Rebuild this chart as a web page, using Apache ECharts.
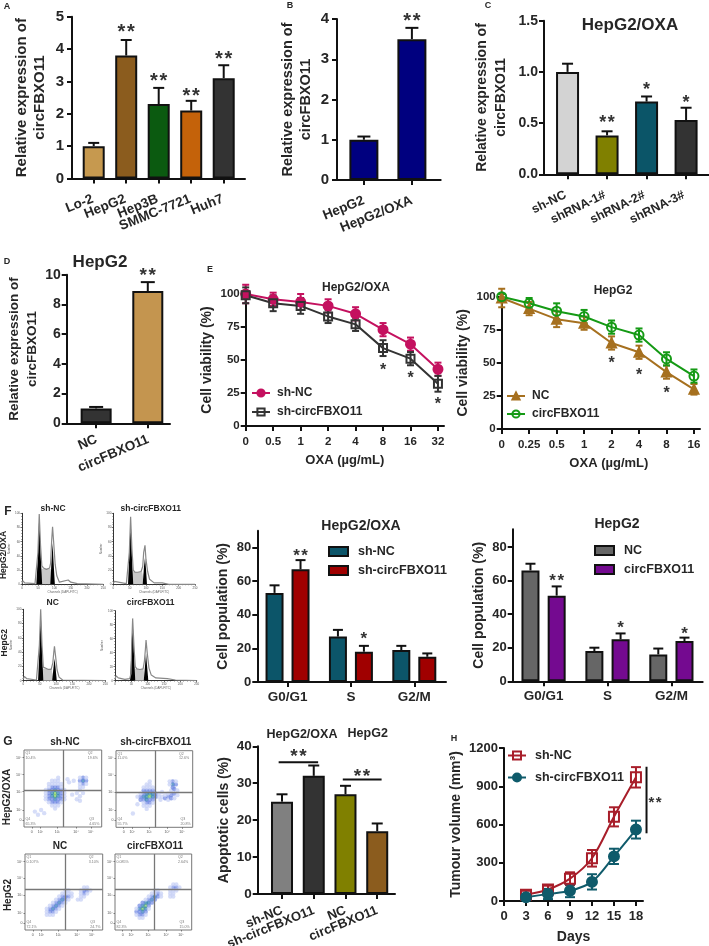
<!DOCTYPE html>
<html><head><meta charset="utf-8">
<style>html,body{margin:0;padding:0;background:#fff}#c{width:709px;height:946px}canvas{filter:blur(.35px)}</style>
<script src="https://cdn.jsdelivr.net/npm/echarts@6/dist/echarts.min.js"></script>
</head><body><div id="c"></div>
<script>
// ---------- DATA ----------
const catsA=['Lo-2','HepG2','Hep3B','SMMC-7721','Huh7'];
const valsA=[1.0,3.8,2.3,2.1,3.1];
const topsA=[1.1,4.28,2.8,2.4,3.5];
const starsA=[[1,4.64,'**'],[2,3.11,'**'],[3,2.66,'**'],[4,3.81,'**']];
const catsB=['HepG2','HepG2/OXA'];
const valsB=[1.0,3.5];
const topsB=[1.08,3.78];
const starsB=[[1,4.03,'**']];
const catsC=['sh-NC','shRNA-1#','shRNA-2#','shRNA-3#'];
const valsC=[1.0,0.38,0.71,0.53];
const topsC=[1.08,0.42,0.76,0.65];
const starsC=[[1,0.537,'**'],[2,0.857,'*'],[3,0.733,'*']];
const catsD=['NC','circFBXO11'];
const valsD=[1.0,8.9];
const topsD=[1.1,9.5];
const starsD=[[1,10.18,'**']];
const dosesE1=['0','0.5','1','2','4','8','16','32'];
const shNC_E=[100,96,94,91,85,73,62,43];
const shNC_Eerr=[7,5,6,5,5,5,5,5];
const shCirc_E=[99,93,91,83,77,59,51,32];
const shCirc_Eerr=[6,6,6,5,5,6,5,6];
const starsE1=[[5,44.7,'*'],[6,38,'*'],[7,19,'*']];
const dosesE2=['0','0.25','0.5','1','2','4','8','16'];
const nc_E=[99,91,83,80,65,58,43,30];
const nc_Eerr=[7,5,6,5,5,5,5,4];
const circ_E=[100,95,89,85,77,71,53,40];
const circ_Eerr=[2,4,6,5,5,5,5,5];
const starsE2=[[4,52,'*'],[5,43,'*'],[6,29.5,'*']];
const phases=['G0/G1','S','G2/M'];
const shNC_F=[53,27,19], shNC_Ftop=[57.5,31,21.5];
const shCirc_F=[67,18,15], shCirc_Ftop=[72.5,21.5,17];
const nc_F=[66,18,16], nc_Ftop=[70,20,19.5];
const circ_F=[51,25,24], circ_Ftop=[56.5,28.5,26];
const catsG=['sh-NC','sh-circFBXO11','NC','circFBXO11'];
const valsG=[25,32,27,17];
const topsG=[27,34.8,29.3,19.1];
const daysH=[3,6,9,12,15,18];
const shNC_H=[50,90,175,335,660,970], shNC_Herr=[30,30,50,65,75,80];
const shCirc_H=[30,55,80,150,350,560], shCirc_Herr=[20,40,50,60,60,70];

// Flow-cytometry histograms, [channel, % of max]
const hist1=[
 {total:[[0,1],[3,5],[8,2],[40,1],[45,3],[49,45],[53,99],[57,55],[61,26],[66,23],[75,21],[85,23],[88,30],[91,60],[94,81],[98,55],[102,28],[107,12],[115,3],[142,6],[150,3],[170,1],[250,0]],
  g1:[[44,0],[49,40],[53,99],[57,45],[62,0]], g2:[[87,0],[91,35],[94,58],[97,32],[101,0]], s:[[56,0],[60,22],[75,22],[88,22],[94,0]]},
 {total:[[0,1],[3,4],[8,2],[40,1],[45,3],[49,45],[53,95],[57,50],[61,20],[66,17],[75,17],[85,18],[90,25],[93,45],[97,55],[100,35],[105,18],[111,7],[125,2],[150,2],[170,0],[250,0]],
  g1:[[45,0],[49,40],[53,95],[57,40],[61,0]], g2:[[90,0],[94,25],[97,37],[100,22],[103,0]], s:[[56,0],[60,18],[75,17],[88,18],[95,0]]},
 {total:[[0,2],[3,6],[10,3],[40,1],[45,3],[49,50],[53,100],[57,50],[61,19],[66,17],[75,16],[85,16],[90,25],[93,40],[95,48],[99,32],[103,15],[109,5],[120,1],[250,0]],
  g1:[[45,0],[49,40],[53,100],[57,45],[61,0]], g2:[[88,0],[92,18],[95,31],[98,20],[102,0]], s:[[56,0],[60,17],[75,16],[86,17],[93,0]]},
 {total:[[0,2],[3,7],[10,4],[30,2],[45,3],[49,10],[51,50],[54,89],[58,50],[62,20],[67,17],[76,16],[86,17],[90,28],[93,45],[95,58],[99,38],[104,18],[111,8],[125,4],[160,3],[185,1],[250,0]],
  g1:[[46,0],[50,40],[54,89],[58,40],[62,0]], g2:[[88,0],[92,22],[95,39],[98,22],[102,0]], s:[[57,0],[61,17],[76,16],[87,17],[93,0]]}
];
const histX=[0,50,100,150,200,250];
const histY=[0,20,40,60,80,100];

// Annexin-V / PI dot plots: [x, y, density level 0..3] read on each plot's frame (0..100)
const dots1=[[40,44,3],[40,40,3],[36,44,2],[44,44,2],[36,40,2],[44,40,2],[40,48,2],[40,36,2],[36,48,1],[44,48,1],[36,36,1],[44,36,1],[32,44,1],[48,44,1],[32,40,1],[48,40,1],[40,52,1],[40,32,1],[36,52,1],[44,52,1],[36,32,1],[44,32,1],[32,48,1],[48,48,1],[32,36,1],[48,36,1],[28,44,0],[52,44,0],[28,40,0],[52,40,0],[32,52,0],[48,52,0],[32,32,0],[48,32,0],[36,56,0],[44,56,0],[40,56,0],[36,28,0],[44,28,0],[40,28,0],[32,56,0],[48,56,0],[40,60,0],[36,60,0],[44,60,0],[44,64,0],[40,24,0],[28,36,0],[28,48,0],[52,48,0],[52,36,0],[76,60,2],[72,60,1],[80,60,1],[76,64,1],[76,56,1],[72,56,0],[80,56,0],[72,64,0],[80,64,0],[72,52,0],[76,52,0],[72,48,0],[68,44,0],[72,40,0],[76,44,0],[68,36,0],[72,34,0],[64,60,0],[56,62,0],[14,20,0],[18,16,0],[22,22,0],[26,18,0],[62,42,0],[58,58,0]];
const dots2=[[40,44,2],[44,44,2],[40,40,2],[44,40,3],[48,40,2],[36,40,2],[36,36,1],[40,36,2],[44,36,1],[48,36,1],[36,44,1],[48,44,2],[40,48,1],[44,48,1],[36,48,1],[48,48,1],[52,44,1],[52,40,1],[32,40,1],[32,36,1],[32,44,0],[40,32,1],[44,32,1],[36,32,0],[48,32,0],[40,52,0],[44,52,0],[36,52,0],[48,52,0],[40,56,0],[44,56,0],[44,60,0],[40,28,0],[36,28,0],[44,28,0],[40,24,0],[28,40,0],[56,40,0],[56,44,0],[60,40,0],[64,38,1],[68,40,1],[72,42,1],[76,44,1],[64,42,0],[68,36,0],[72,38,1],[76,38,0],[80,42,0],[68,44,0],[72,48,0],[76,50,1],[80,48,0],[74,56,2],[70,56,0],[78,56,1],[74,60,1],[70,60,0],[78,60,0],[74,52,1],[58,36,0],[60,46,0],[22,18,0],[28,30,0]];
const dots3=[[36,28,2],[40,32,2],[44,36,2],[48,40,2],[32,24,1],[36,24,1],[32,28,1],[40,28,1],[36,32,1],[44,32,1],[40,36,1],[48,36,1],[44,40,1],[52,44,1],[52,40,1],[48,44,1],[56,44,1],[56,48,0],[28,24,0],[28,28,0],[32,20,0],[36,20,0],[28,20,0],[40,24,0],[32,32,0],[36,36,0],[40,40,0],[44,44,0],[48,48,0],[52,48,0],[44,28,0],[48,32,0],[52,36,0],[56,40,0],[60,44,0],[60,48,0],[52,52,0],[56,52,0],[76,52,1],[80,52,1],[72,52,0],[76,48,1],[80,48,0],[72,48,0],[76,44,0],[72,44,0],[68,40,0],[76,56,0],[80,56,0],[84,52,0],[72,40,0]];
const dots4=[[36,28,3],[40,32,3],[36,24,2],[40,28,2],[36,32,2],[44,36,2],[32,28,2],[32,24,1],[44,32,1],[40,36,2],[48,40,2],[48,44,1],[52,44,2],[44,40,1],[40,24,1],[32,32,1],[36,36,1],[40,40,0],[44,44,0],[32,20,1],[36,20,1],[28,24,1],[28,20,0],[28,28,0],[40,20,0],[44,28,0],[48,36,1],[52,40,1],[56,44,1],[56,48,1],[52,48,0],[48,48,0],[60,48,0],[60,44,0],[56,52,0],[52,52,0],[32,16,0],[36,16,0],[76,56,1],[80,56,1],[76,52,0],[80,52,0],[72,52,0],[76,48,0],[72,48,0],[76,44,0],[72,44,0],[72,56,0],[84,56,0],[76,60,0],[80,60,0]];
const quadLabels1=['Q1','10.4%','Q2','19.6%','Q4','65.3%','Q3','4.65%'];
const quadLabels2=['Q1','11.0%','Q2','12.6%','Q4','55.7%','Q3','20.8%'];
const quadLabels3=['Q1','0.107%','Q2','3.10%','Q4','72.1%','Q3','24.7%'];
const quadLabels4=['Q1','0.085%','Q2','2.64%','Q4','82.3%','Q3','15.0%'];
const dotTickPosX=[10,21,43,67,86];
const dotTickPosY=[9,22,46,68,90];
const dotTickNames=['0','10²','10³','10⁴','10⁵'];

// ---------- STYLE ----------
const FONT='"Liberation Sans",Arial,sans-serif';
const INK='#262626';
const grid=[],xAxis=[],yAxis=[],series=[],legend=[],graphic=[];
function text(t,x,y,size,extra){graphic.push({type:'text',silent:true,x,y,rotation:(extra&&extra.rot)||0,
  style:{text:t,fill:(extra&&extra.fill)||INK,font:`${(extra&&extra.w)||'bold'} ${size}px ${FONT}`,align:'center',verticalAlign:'middle'}});}
function panel(g){
  grid.push({left:g.x0,width:g.x1-g.x0,top:g.yTop,height:g.yBot-g.yTop,show:false});
  return grid.length-1;
}
function axX(i,o){
  xAxis.push({type:'value',gridIndex:i,min:o.min,max:o.max,splitLine:{show:false},
    axisLine:{onZero:false,lineStyle:{color:'#111',width:2}},
    axisTick:{customValues:o.ticks,length:5,lineStyle:{color:'#111',width:2}},
    axisLabel:{show:!o.hideLabels,customValues:o.ticks,showMinLabel:true,showMaxLabel:true,margin:o.margin||6,color:INK,fontFamily:FONT,fontWeight:'bold',fontSize:o.size||13,formatter:o.fmt||(v=>String(v))},
    name:o.name||'',nameLocation:'middle',nameGap:o.nameGap||30,
    nameTextStyle:{color:INK,fontFamily:FONT,fontWeight:'bold',fontSize:o.nameSize||13,padding:o.namePad||0}});
}
function axY(i,o){
  yAxis.push({type:'value',gridIndex:i,min:o.min,max:o.max,splitLine:{show:false},
    axisLine:{onZero:false,lineStyle:{color:'#111',width:2}},
    axisTick:{customValues:o.ticks,length:5,lineStyle:{color:'#111',width:2}},
    axisLabel:{customValues:o.ticks,showMinLabel:true,showMaxLabel:true,margin:o.margin||6,color:INK,fontFamily:FONT,fontWeight:'bold',fontSize:o.size||14,formatter:o.fmt||(v=>String(v))},
    name:o.name,nameLocation:'middle',nameGap:o.nameGap,nameRotate:90,
    nameTextStyle:{color:INK,fontFamily:FONT,fontWeight:'bold',fontSize:o.nameSize||14,lineHeight:o.nameLH||18,align:'center'}});
}
// Slanted category names anchored to each tick (the axis would otherwise drop overlapping ones)
function slantLabels(i,cats,deg,size,dx,dy){
  series.push({type:'custom',coordinateSystem:'cartesian2d',xAxisIndex:i,yAxisIndex:i,silent:true,clip:false,z:5,
    renderItem:(p,api)=>{
      const c=api.coord([api.value(0),0]);
      return {type:'text',x:c[0]+dx,y:c[1]+dy,rotation:deg*Math.PI/180,
        style:{text:cats[p.dataIndex],fill:INK,font:`bold ${size}px ${FONT}`,align:'right',verticalAlign:'middle'}};
    },data:cats.map((_,k)=>[k])});
}
function bars(i,name,xs,vals,colors,w){
  series.push({type:'bar',name,xAxisIndex:i,yAxisIndex:i,barWidth:w,barGap:'-100%',silent:true,z:2,
    itemStyle:{color:Array.isArray(colors)?'#000':colors,borderColor:'#111',borderWidth:2},
    data:vals.map((v,k)=>({value:[xs[k],v],itemStyle:Array.isArray(colors)?{color:colors[k],borderColor:'#111',borderWidth:2}:undefined}))});
}
function errs(i,data,cap,color,two,lw){
  series.push({type:'custom',coordinateSystem:'cartesian2d',xAxisIndex:i,yAxisIndex:i,silent:true,z:two?3:1,clip:false,
    renderItem:(p,api)=>{
      const a=api.coord([api.value(0),api.value(1)]),b=api.coord([api.value(0),api.value(2)]);
      const st={stroke:color,lineWidth:lw||2,fill:null};
      const seg=(x1,y1,x2,y2)=>({type:'line',shape:{x1,y1,x2,y2},style:st});
      const ch=[seg(a[0],a[1],b[0],b[1]),seg(b[0]-cap,b[1],b[0]+cap,b[1])];
      if(two)ch.push(seg(a[0]-cap,a[1],a[0]+cap,a[1]));
      return {type:'group',children:ch};
    },data});
}
function rule(i,d){
  series.push({type:'custom',coordinateSystem:'cartesian2d',xAxisIndex:i,yAxisIndex:i,silent:true,clip:false,z:3,
    renderItem:(p,api)=>{
      const a=api.coord([api.value(0),api.value(1)]),b=api.coord([api.value(2),api.value(3)]);
      return {type:'line',shape:{x1:a[0],y1:a[1],x2:b[0],y2:b[1]},style:{stroke:'#111',lineWidth:2}};
    },data:d});
}
function stars(i,data,size){
  series.push({type:'custom',coordinateSystem:'cartesian2d',xAxisIndex:i,yAxisIndex:i,silent:true,z:5,clip:false,
    renderItem:(p,api)=>{
      const c=api.coord([api.value(0),api.value(1)]);
      return {type:'text',style:{x:c[0],y:c[1]+size*0.2,text:data[p.dataIndex][2].replace('**','*\u200a*'),fill:'#333',font:`bold ${size}px ${FONT}`,align:'center',verticalAlign:'middle'}};
    },data:data.map(d=>[d[0],d[1]])});
}
function lineS(i,key,xs,vals,color,symbol,size,smooth,hollow){
  series.push({type:'line',name:key,xAxisIndex:i,yAxisIndex:i,silent:true,z:4,data:vals.map((v,k)=>[xs[k],v]),
    symbol,symbolSize:size,showAllSymbol:true,smooth:smooth||false,lineStyle:{color,width:2},
    itemStyle:{color:hollow?'rgba(255,255,255,0)':color,borderColor:color,borderWidth:2}});
}
function leg(items,left,top,gap,w,h,size,icon,pad){
  const l={left,top,orient:'vertical',itemGap:gap,itemWidth:w,itemHeight:h,selectedMode:false,data:items,
    padding:0,formatter:n=>n.split('|')[0],textStyle:{color:INK,fontFamily:FONT,fontWeight:'bold',fontSize:size,padding:[0,0,0,pad||0]}};
  if(icon)l.icon=icon;
  legend.push(l);
}
const ids=a=>a.map((_,k)=>k);
const topData=(xs,v,t)=>v.map((d,k)=>[xs[k],d,t[k]]);
const twoData=(xs,v,e)=>v.map((d,k)=>[xs[k],d-e[k],d+e[k]]);
const catFmt=c=>(v=>c[Math.round(v)]);

// Panel A
let i=panel({x0:72,x1:245,yTop:16.7,yBot:178.5});
axX(i,{min:-0.668,max:4.655,ticks:ids(catsA),hideLabels:true});
axY(i,{min:0,max:5,ticks:[0,1,2,3,4,5],size:15,margin:8,name:'Relative expression of\ncircFBXO11',nameGap:23,nameSize:15,nameLH:18});
bars(i,'A',ids(catsA),valsA,['#C6994F','#8B5C1E','#0B5A10','#C4620A','#333333'],22);
errs(i,topData(ids(catsA),valsA,topsA),5.5,'#111');stars(i,starsA,20);
slantLabels(i,catsA,22,13.5,-1,20);
// Panel B
i=panel({x0:337,x1:440.7,yTop:19,yBot:180});
axX(i,{min:-0.56,max:1.6,ticks:ids(catsB),hideLabels:true});
axY(i,{min:0,max:4,ticks:[0,1,2,3,4],size:15,margin:8,name:'Relative expression of\ncircFBXO11',nameGap:22,nameSize:14.5,nameLH:18});
bars(i,'B',ids(catsB),valsB,'#00007F',29);
errs(i,topData(ids(catsB),valsB,topsB),6.5,'#111');stars(i,starsB,20);
slantLabels(i,catsB,22,13.5,0,20);
// Panel C
i=panel({x0:544,x1:709,yTop:20.7,yBot:174.3});
axX(i,{min:-0.596,max:3.58,ticks:ids(catsC),hideLabels:true});
axY(i,{min:0,max:1.5,ticks:[0,0.5,1,1.5],size:14,fmt:v=>v.toFixed(1),name:'Relative expression of\ncircFBXO11',nameGap:34,nameSize:14,nameLH:18.5});
bars(i,'C',ids(catsC),valsC,['#D3D3D3','#808000','#0B5568','#333333'],23);
errs(i,topData(ids(catsC),valsC,topsC),5.5,'#111');stars(i,starsC,18);
slantLabels(i,catsC,26,12.5,-2,20);
text('HepG2/OXA',630,25,17);
// Panel D
i=panel({x0:66.7,x1:170,yTop:274.7,yBot:423.3});
axX(i,{min:-0.57,max:1.43,ticks:ids(catsD),hideLabels:true});
axY(i,{min:0,max:10,ticks:[0,2,4,6,8,10],size:14,name:'Relative expression of\ncircFBXO11',nameGap:23,nameSize:13.5,nameLH:18});
bars(i,'D',ids(catsD),valsD,['#333333','#C4954F'],31);
errs(i,topData(ids(catsD),valsD,topsD),7,'#111');stars(i,starsD,19);
slantLabels(i,catsD,23,13.5,0.5,15.5);
text('HepG2',100,262,17);
// Panel E left
i=panel({x0:245.7,x1:444,yTop:294,yBot:426});
axX(i,{min:0,max:7.22,ticks:ids(dosesE1),fmt:catFmt(dosesE1),size:11.5,margin:10,name:'OXA (µg/mL)',nameGap:28,nameSize:13});
axY(i,{min:0,max:100,ticks:[0,25,50,75,100],size:11.5,margin:6,name:'Cell viability (%)',nameGap:25,nameSize:14});
errs(i,twoData(ids(shNC_E),shNC_E,shNC_Eerr),3.5,'#C4115F',true);
errs(i,twoData(ids(shCirc_E),shCirc_E,shCirc_Eerr),3.5,'#333333',true);
lineS(i,'sh-NC|E',ids(shNC_E),shNC_E,'#C4115F','circle',9);
lineS(i,'sh-circFBXO11|E',ids(shCirc_E),shCirc_E,'#333333','rect',8,false,true);
stars(i,starsE1,16);
leg(['sh-NC|E','sh-circFBXO11|E'],251,387,7,18,9,12,null,2);
text('HepG2/OXA',356,288,12);
// Panel E right
i=panel({x0:501.7,x1:700,yTop:296.7,yBot:429});
axX(i,{min:0,max:7.22,ticks:ids(dosesE2),fmt:catFmt(dosesE2),size:11.5,margin:10,name:'OXA (µg/mL)',nameGap:28,nameSize:13,namePad:[0,0,0,16]});
axY(i,{min:0,max:100,ticks:[0,25,50,75,100],size:11.5,margin:6,name:'Cell viability (%)',nameGap:25,nameSize:14});
errs(i,twoData(ids(nc_E),nc_E,nc_Eerr),3.5,'#A6701F',true);
errs(i,twoData(ids(circ_E),circ_E,circ_Eerr),3.5,'#159A15',true);
lineS(i,'NC|E',ids(nc_E),nc_E,'#A6701F','triangle',9);
lineS(i,'circFBXO11|E',ids(circ_E),circ_E,'#159A15','circle',9,false,true);
stars(i,starsE2,16);
leg(['NC|E','circFBXO11|E'],506,390,6,18,9,12,null,2);
text('HepG2',613,291,12);

// Panel F bars
const off=0.205;
i=panel({x0:257.3,x1:446,yTop:530.7,yBot:682});
let xa=ids(phases).map(k=>k-off),xb=ids(phases).map(k=>k+off);
axX(i,{min:-0.477,max:2.5,ticks:ids(phases),fmt:catFmt(phases),size:13.5,margin:8});
axY(i,{min:0,max:90,ticks:[0,20,40,60,80],size:13,name:'Cell population (%)',nameGap:25,nameSize:14});
bars(i,'sh-NC|F',xa,shNC_F,'#0C5569',18);bars(i,'sh-circFBXO11|F',xb,shCirc_F,'#A00000',18);
errs(i,topData(xa,shNC_F,shNC_Ftop),5,'#111');errs(i,topData(xb,shCirc_F,shCirc_Ftop),5,'#111');
stars(i,[[0+off,76.6,'**'],[1+off,27.4,'*']],17);
leg(['sh-NC|F','sh-circFBXO11|F'],328,545,6,19,9,12.5,'rect',5);
text('HepG2/OXA',361,525.7,14);
i=panel({x0:512.7,x1:702.7,yTop:529.3,yBot:681.3});
axX(i,{min:-0.483,max:2.49,ticks:ids(phases),fmt:catFmt(phases),size:13.5,margin:8});
axY(i,{min:0,max:90.5,ticks:[0,20,40,60,80],size:13,name:'Cell population (%)',nameGap:25,nameSize:14});
bars(i,'NC|F',xa,nc_F,'#666666',18);bars(i,'circFBXO11|F',xb,circ_F,'#740A90',18);
errs(i,topData(xa,nc_F,nc_Ftop),5,'#111');errs(i,topData(xb,circ_F,circ_Ftop),5,'#111');
stars(i,[[0+off,61.7,'**'],[1+off,33.5,'*'],[2+off,30,'*']],17);
leg(['NC|F','circFBXO11|F'],594,544,6,19,9,12.5,'rect',5);
text('HepG2',617,524,14);

// Panel G bars
i=panel({x0:257.7,x1:395,yTop:746.3,yBot:894});
axX(i,{min:-0.766,max:3.56,ticks:ids(catsG),hideLabels:true});
axY(i,{min:0,max:40,ticks:[0,10,20,30,40],size:13.5,name:'Apoptotic cells (%)',nameGap:22,nameSize:14});
bars(i,'G',ids(catsG),valsG,['#808080','#333333','#808000','#8B5C1E'],22);
errs(i,topData(ids(catsG),valsG,topsG),5.5,'#111');
stars(i,[[0.52,38.1,'**'],[2.52,32.9,'**']],19);
rule(i,[[-0.106,35.7,1.138,35.7],[1.915,31,3.138,31]]);
slantLabels(i,catsG,22,13,0,16);
text('HepG2/OXA',302,735,12.5);text('HepG2',367.7,734,12.5);

// Panel H
i=panel({x0:504,x1:643,yTop:748,yBot:901});
axX(i,{min:0,max:18.96,ticks:[0,3,6,9,12,15,18],size:13,margin:9,name:'Days',nameGap:29,nameSize:14});
axY(i,{min:0,max:1200,ticks:[0,300,600,900,1200],size:13,margin:6,name:'Tumour volume (mm³)',nameGap:30,nameSize:14});
errs(i,twoData(daysH,shNC_H,shNC_Herr),5,'#A81E2A',true);
errs(i,twoData(daysH,shCirc_H,shCirc_Herr),5,'#0F5B6B',true);
lineS(i,'sh-NC|H',daysH,shNC_H,'#A81E2A','rect',10,0.3,true);
lineS(i,'sh-circFBXO11|H',daysH,shCirc_H,'#0F5B6B','circle',10,0.3);
rule(i,[[19.44,1053,19.44,531]]);
stars(i,[[20.6,792,'**']],15);
leg(['sh-NC|H','sh-circFBXO11|H'],507,749,9,18,10,12.5,null,4);

// Panel F histograms
[[22,103.3,513.3,584.3],[113.3,195,513.3,584.3],[23.3,105.3,609.3,680.7],[115,196.7,610.7,680.7]].forEach((b,n)=>{
  const k=panel({x0:b[0],x1:b[1],yTop:b[2],yBot:b[3]});
  xAxis.push({type:'value',gridIndex:k,min:0,max:250,splitLine:{show:false},axisLine:{lineStyle:{color:'#333',width:1}},
    axisTick:{customValues:histX,length:1.5,lineStyle:{color:'#333',width:.7}},minorTick:{show:true,splitNumber:5,length:1,lineStyle:{color:'#555',width:.5}},
    axisLabel:{customValues:histX,margin:2,fontSize:3,color:'#555',fontFamily:FONT},name:'Channels (DAPI-FITC)',nameLocation:'middle',nameGap:6,nameTextStyle:{fontSize:3,color:'#666',fontFamily:FONT}});
  yAxis.push({type:'value',gridIndex:k,min:0,max:100,splitLine:{show:false},axisLine:{lineStyle:{color:'#333',width:1}},
    axisTick:{customValues:histY,length:1.5,lineStyle:{color:'#333',width:.7}},minorTick:{show:true,splitNumber:5,length:1,lineStyle:{color:'#555',width:.5}},
    axisLabel:{customValues:histY,margin:2,fontSize:3,color:'#555',fontFamily:FONT},name:'Number',nameLocation:'middle',nameGap:6,nameTextStyle:{fontSize:3,color:'#666',fontFamily:FONT}});
  const h=hist1[n];
  const add=(d,fill,z)=>series.push({type:'line',xAxisIndex:k,yAxisIndex:k,silent:true,symbol:'none',z,data:d,lineStyle:{width:0},areaStyle:{color:fill,opacity:1}});
  add(h.s,'#C8C8C8',2);add(h.g1,'#000',3);add(h.g2,'#000',3);
  series.push({type:'line',xAxisIndex:k,yAxisIndex:k,silent:true,symbol:'none',z:4,data:h.total,lineStyle:{color:'#888',width:1.2}});
});
text('sh-NC',53,509,8.5);text('sh-circFBXO11',150.7,509,8.5);text('NC',52.7,602.7,8.5);text('circFBXO11',150.7,602.7,8.5);
text('HepG2/OXA',3.8,555,8.5,{rot:Math.PI/2});text('HepG2',4.3,642.7,8.5,{rot:Math.PI/2});

// Panel G dot plots
const dotColors=['#C5CEF5','#6E86E3','#2B7FB0','#7ACB5A'];
[[24,101.7,750,827,dots1,50.6,47.4,quadLabels1],[116,192.7,750.7,827.3,dots2,50.9,45.7,quadLabels2],
 [25,102.7,854,930,dots3,51.5,53.5,quadLabels3],[115,191.7,854,930,dots4,50.9,53.5,quadLabels4]].forEach(b=>{
  const k=grid.push({left:b[0],width:b[1]-b[0],top:b[2],height:b[3]-b[2],show:true,borderColor:'#777',borderWidth:1,backgroundColor:'transparent'})-1;
  const ax=(pos)=>({type:'value',gridIndex:k,min:0,max:100,splitLine:{show:false},axisLine:{show:false},
    axisTick:{customValues:pos,length:1.5,lineStyle:{color:'#555',width:.7}},
    axisLabel:{customValues:pos,margin:2.5,fontSize:3.6,color:'#555',fontFamily:FONT,formatter:v=>dotTickNames[pos.indexOf(v)]}});
  xAxis.push(ax(dotTickPosX));yAxis.push(ax(dotTickPosY));
  series.push({type:'scatter',xAxisIndex:k,yAxisIndex:k,silent:true,symbol:'circle',symbolSize:4.4,data:b[4],z:2,
    itemStyle:{opacity:.7,color:p=>dotColors[p.value[2]]},
    markLine:{silent:true,symbol:'none',animation:false,label:{show:false},lineStyle:{color:'#777',width:1.3,type:'solid'},data:[{xAxis:b[5]},{yAxis:b[6]}]}});
  const q=b[7],pos=[[2,96],[2,90],[82,96],[82,90],[2,11],[2,4],[84,11],[84,4]];
  series.push({type:'scatter',xAxisIndex:k,yAxisIndex:k,silent:true,symbolSize:0,z:3,data:pos,
    label:{show:true,position:'right',distance:0,fontSize:3.6,color:'#555',fontFamily:FONT,formatter:p=>q[p.dataIndex]}});
});
text('sh-NC',65,742.7,10);text('sh-circFBXO11',155.7,742.7,10);text('NC',60,846.7,10);text('circFBXO11',155,846.7,10);
text('HepG2/OXA',7.3,797,10,{rot:Math.PI/2});text('HepG2',8,895,10,{rot:Math.PI/2});

// Panel letters
[['A',7,7,9],['B',290,6,9],['C',488,6,9],['D',7,262,9],['E',210,270,9],['F',8,512,12],['G',8,742,12],['H',454,739,9]].forEach(l=>text(l[0],l[1],l[2],l[3]));

const chart=echarts.init(document.getElementById('c'),null,{renderer:'canvas',width:709,height:946});
chart.setOption({animation:false,backgroundColor:'#fff',tooltip:{show:false},grid,xAxis,yAxis,series,legend,graphic:{elements:graphic}});
</script></body></html>
